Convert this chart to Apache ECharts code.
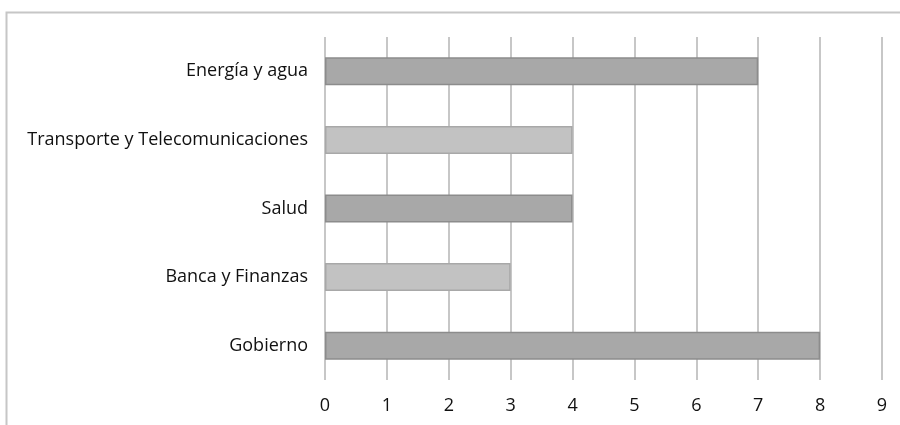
<!DOCTYPE html>
<html>
<head>
<meta charset="utf-8">
<script src="https://cdn.jsdelivr.net/npm/echarts@6/dist/echarts.min.js"></script>
<style>
  html, body { margin: 0; padding: 0; background: #fff; }
  #chart { width: 900px; height: 425px; }
</style>
</head>
<body>
<div id="chart"></div>
<script>
// categories listed bottom to top
var categories = ['Gobierno', 'Banca y Finanzas', 'Salud', 'Transporte y Telecomunicaciones', 'Energía y agua'];
var values = [8, 3, 4, 4, 7];
var xTicks = [0, 1, 2, 3, 4, 5, 6, 7, 8, 9];

var darkBar = { color: '#a8a8a8', borderColor: '#8c8c8c' };
var lightBar = { color: '#c2c2c2', borderColor: '#a8a8a8' };

var chart = echarts.init(document.getElementById('chart'));

var option = {
    backgroundColor: '#fff',
    textStyle: { fontFamily: 'Open Sans' },
    animation: false,
    graphic: [{
        type: 'polyline',
        shape: { points: [[6.5, 430], [6.5, 12.5], [905, 12.5]] },
        style: { stroke: '#c6c6c6', lineWidth: 2, fill: null }
    }],
    grid: { left: 325, right: 18, top: 37, bottom: 45 },
    xAxis: {
        type: 'value',
        min: xTicks[0],
        max: xTicks[xTicks.length - 1],
        interval: 1,
        axisLine: { show: false },
        axisTick: { show: false },
        axisLabel: { color: '#111', fontSize: 18, margin: 17 },
        splitLine: { lineStyle: { color: '#b4b4b4', width: 1.5 } }
    },
    yAxis: {
        type: 'category',
        data: categories,
        axisLine: { show: false },
        axisTick: { show: false },
        axisLabel: { color: '#111', fontSize: 18, margin: 17 }
    },
    series: [{
        type: 'bar',
        barWidth: 28,
        data: values.map(function (v, i) {
            var s = i % 2 === 0 ? darkBar : lightBar;
            return { value: v, itemStyle: { color: s.color, borderColor: s.borderColor, borderWidth: 1.5 } };
        })
    }]
};
chart.setOption(option);
</script>
</body>
</html>
